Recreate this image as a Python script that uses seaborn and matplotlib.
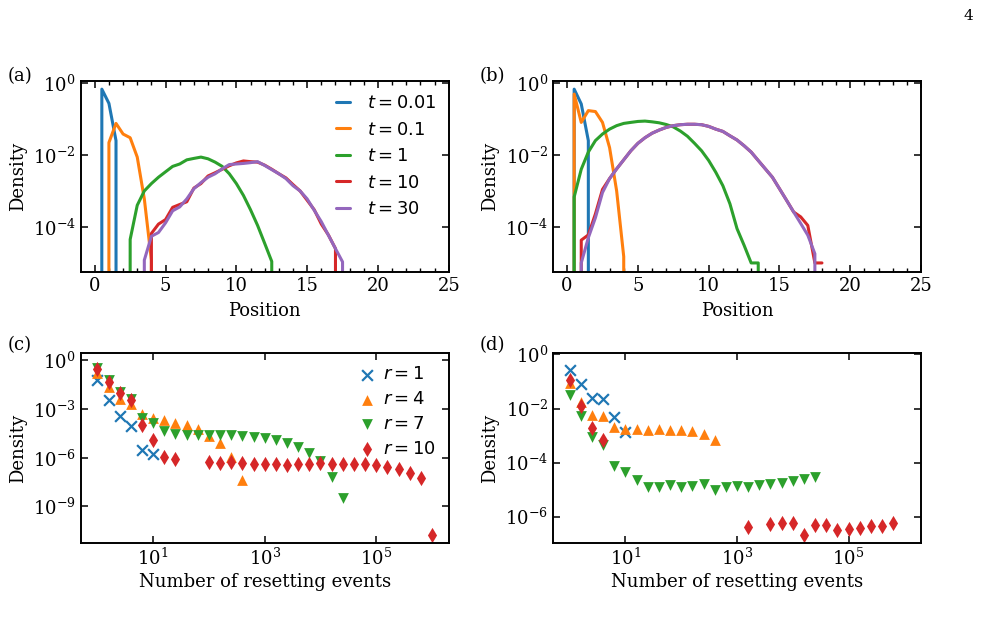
import numpy as np
import pandas as pd
import matplotlib
matplotlib.use("Agg")
import matplotlib.pyplot as plt
import seaborn as sns

sns.set_theme(style="ticks")
plt.rcParams.update({
    'font.family': 'DejaVu Serif',
    'mathtext.fontset': 'dejavusans',
    'font.size': 13,
    'axes.labelsize': 13,
    'xtick.labelsize': 13,
    'ytick.labelsize': 13,
    'legend.fontsize': 13,
    'xtick.direction': 'in',
    'ytick.direction': 'in',
    'xtick.top': True,
    'ytick.right': True,
    'axes.linewidth': 1.4,
    'axes.edgecolor': 'black',
    'text.color': 'black',
    'axes.labelcolor': 'black',
    'xtick.color': 'black',
    'ytick.color': 'black',
})

# ---- data: panels (a)/(b), density vs position (bins of 0.5) ----
position = [0.0, 0.5, 1.0, 1.5, 2.0, 2.5, 3.0, 3.5, 4.0, 4.5, 5.0, 5.5, 6.0, 6.5,
            7.0, 7.5, 8.0, 8.5, 9.0, 9.5, 10.0, 10.5, 11.0, 11.5, 12.0, 12.5, 13.0,
            13.5, 14.0, 14.5, 15.0, 15.5, 16.0, 16.5, 17.0, 17.5, 18.0]
times = ["0.01", "0.1", "1", "10", "30"]

a_t001 = [0, 0.67, 0.27, 0.025, 0, 0, 0, 0, 0, 0, 0, 0, 0, 0, 0, 0, 0, 0, 0, 0,
          0, 0, 0, 0, 0, 0, 0, 0, 0, 0, 0, 0, 0, 0, 0, 0, 0]
a_t01 = [0, 0, 0.022, 0.075, 0.038, 0.030, 0.0087, 6e-4, 1.2e-5, 0, 0, 0, 0, 0, 0,
         0, 0, 0, 0, 0, 0, 0, 0, 0, 0, 0, 0, 0, 0, 0, 0, 0, 0, 0, 0, 0, 0]
a_t1 = [0, 0, 0, 0, 0, 4.5e-5, 4e-4, 1.0e-3, 1.6e-3, 2.4e-3, 3.4e-3, 4.8e-3, 5.6e-3,
        7.3e-3, 8.0e-3, 8.7e-3, 7.8e-3, 6.3e-3, 4.8e-3, 3.0e-3, 1.6e-3, 7.5e-4, 3e-4,
        1.1e-4, 3.5e-5, 1.1e-5, 0, 0, 0, 0, 0, 0, 0, 0, 0, 0, 0]
a_t10 = [0, 0, 0, 0, 0, 0, 0, 0, 6.6e-5, 1.2e-4, 1.6e-4, 3.5e-4, 4.2e-4, 5.0e-4,
         1.2e-3, 1.6e-3, 2.6e-3, 3.2e-3, 4.0e-3, 5.0e-3, 6.0e-3, 6.8e-3, 6.5e-3,
         6.3e-3, 5.2e-3, 4.0e-3, 3.0e-3, 2.3e-3, 1.5e-3, 1.0e-3, 5.5e-4, 3.0e-4,
         1.2e-4, 6e-5, 2.5e-5, 0, 0]
a_t30 = [0, 0, 0, 0, 0, 0, 0, 1.2e-5, 5.5e-5, 7e-5, 1.3e-4, 2.8e-4, 3.6e-4, 6e-4,
         1.15e-3, 1.7e-3, 2.4e-3, 3e-3, 4.1e-3, 5.4e-3, 5.6e-3, 5.8e-3, 6.1e-3,
         6.5e-3, 5.1e-3, 3.9e-3, 3e-3, 2.2e-3, 1.4e-3, 1e-3, 6e-4, 2.9e-4, 1.4e-4,
         5.9e-5, 2.5e-5, 1.07e-5, 0]

b_t001 = [0, 0.67, 0.26, 0.025, 0, 0, 0, 0, 0, 0, 0, 0, 0, 0, 0, 0, 0, 0, 0, 0,
          0, 0, 0, 0, 0, 0, 0, 0, 0, 0, 0, 0, 0, 0, 0, 0, 0]
b_t01 = [0, 0.49, 0.08, 0.17, 0.16, 0.08, 0.016, 1e-3, 1.5e-5, 0, 0, 0, 0, 0, 0,
         0, 0, 0, 0, 0, 0, 0, 0, 0, 0, 0, 0, 0, 0, 0, 0, 0, 0, 0, 0, 0, 0]
b_t1 = [0, 6.8e-4, 4e-3, 0.012, 0.025, 0.038, 0.052, 0.065, 0.075, 0.08, 0.085,
        0.087, 0.083, 0.078, 0.07, 0.06, 0.046, 0.033, 0.021, 0.013, 0.007, 3.3e-3,
        1.4e-3, 4.4e-4, 9e-5, 3.1e-5, 1e-5, 1e-5, 0, 0, 0, 0, 0, 0, 0, 0, 0]
b_t10 = [0, 0, 4.3e-5, 6e-5, 2.3e-4, 1.1e-3, 2.2e-3, 4.1e-3, 7.3e-3, 0.013, 0.021,
         0.030, 0.040, 0.049, 0.058, 0.065, 0.069, 0.071, 0.071, 0.069, 0.062,
         0.052, 0.045, 0.034, 0.026, 0.018, 0.012, 0.007, 4.1e-3, 2.4e-3, 1.15e-3,
         5.5e-4, 2.6e-4, 1.9e-4, 1.1e-4, 1e-5, 1e-5]
b_t30 = [0, 0, 1e-5, 5e-5, 1.8e-4, 9e-4, 2.2e-3, 4.1e-3, 7.3e-3, 0.013, 0.021,
         0.030, 0.040, 0.049, 0.058, 0.065, 0.069, 0.071, 0.071, 0.069, 0.062,
         0.052, 0.045, 0.034, 0.026, 0.018, 0.012, 0.007, 4.1e-3, 2.4e-3, 1.15e-3,
         5.5e-4, 2.6e-4, 1.25e-4, 5.9e-5, 1.8e-5, 0]

# ---- data: panels (c)/(d), density vs number of resetting events ----
n_events = [1, 1.585, 2.512, 3.981, 6.31, 10, 15.85, 25.12, 39.81, 63.1, 100,
            158.5, 251.2, 398.1, 631, 1000, 1585, 2512, 3981, 6310, 1e4, 15850,
            25120, 39810, 63100, 1e5, 158500, 251200, 398100, 631000, 1e6]
nan = np.nan
rates = ["1", "4", "7", "10"]

c_r1 = [0.065, 3.5e-3, 3.6e-4, 9e-5, 3e-6, 1.8e-6] + [nan] * 25
c_r4 = [0.17, 0.023, 4.4e-3, 2e-3, 4.8e-4, 3e-4, 2e-4, 1.4e-4, 1e-4, 5.5e-5, 2.1e-5,
        7.6e-6, 1.1e-6, 4.2e-8] + [nan] * 17
c_r7 = [0.35, 0.059, 0.011, 4.4e-3, 3e-4, 1.3e-4, 4.3e-5, 3.1e-5, 2.7e-5, 2.5e-5,
        2.5e-5, 2.5e-5, 2.4e-5, 2.1e-5, 1.9e-5, 1.7e-5, 1.3e-5, 8.3e-6, 4.7e-6, 2e-6,
        6.5e-7, 6.7e-8, 3.2e-9] + [nan] * 8
c_r10 = [0.31, 0.047, 0.01, 3.5e-3, 1.1e-4, 1.2e-5, 1.1e-6, 7.9e-7, nan, nan, 5.1e-7,
         4.5e-7, 5.6e-7, 4.5e-7, 4e-7, 4e-7, 4e-7, 3.5e-7, 4e-7, 4e-7, 4.5e-7, 4e-7,
         4e-7, 4e-7, 4e-7, 3.5e-7, 2.8e-7, 1.9e-7, 1.1e-7, 5.3e-8, 1.7e-11]

d_r1 = [0.26, 0.078, 0.025, 0.022, 4.7e-3, 1.4e-3] + [nan] * 25
d_r4 = [0.085, 0.018, 5.7e-3, 5.3e-3, 2e-3, 1.7e-3, 1.7e-3, 1.6e-3, 1.7e-3, 1.6e-3,
        1.6e-3, 1.5e-3, 1.1e-3, 6.9e-4] + [nan] * 17
d_r7 = [0.032, 5.3e-3, 8.5e-4, 4.5e-4, 7.4e-5, 4.6e-5, 2.3e-5, 1.3e-5, 1.2e-5,
        1.5e-5, 1.2e-5, 1.35e-5, 1.6e-5, 1.0e-5, 1.3e-5, 1.35e-5, 1.3e-5, 1.5e-5,
        1.6e-5, 1.8e-5, 2.1e-5, 2.4e-5, 3e-5] + [nan] * 8
d_r10 = [0.11, 0.012, 1.9e-3, 6.9e-4] + [nan] * 12 + [4.3e-7, nan, 5.4e-7, 5.7e-7,
         5.7e-7, 2.1e-7, 4.9e-7, 4.9e-7, 3.2e-7, 3.4e-7, 3.7e-7, 4.6e-7, 4.6e-7,
         5.7e-7, nan]

line_colors = ["#1f77b4", "#ff7f0e", "#2ca02c", "#d62728", "#9467bd"]
scatter_markers = ["x", "^", "v", "d"]


def plot_density_panel(ax, series, show_legend):
    for t, y, c in zip(times, series, line_colors):
        sns.lineplot(x=position, y=y, ax=ax, color=c, linewidth=2.2,
                     estimator=None, sort=False, label=f"$t = {t}$" if show_legend else None)
    ax.set_yscale("log")
    ax.set_xlim(-1, 25)
    ax.set_ylim(5.7e-6, 1.1)
    ax.set_xticks([0, 5, 10, 15, 20, 25])
    ax.set_xticks(np.arange(0, 26, 1), minor=True)
    ax.set_yticks([1e0, 1e-2, 1e-4])
    ax.yaxis.set_minor_locator(matplotlib.ticker.NullLocator())
    ax.tick_params(which="major", length=5, width=1.1)
    ax.tick_params(which="minor", length=3, width=1.0)
    ax.set_xlabel("Position", labelpad=5)
    ax.set_ylabel("Density")
    if show_legend:
        ax.legend(loc="upper right", frameon=False, handlelength=0.8,
                  handletextpad=0.9, labelspacing=0.47, borderaxespad=0.3)
    elif ax.get_legend() is not None:
        ax.get_legend().remove()


def plot_reset_panel(ax, series, yticks, ylim, show_legend):
    for r, y, c, m in zip(rates, series, line_colors, scatter_markers):
        kw = dict(linewidth=1.6) if m == "x" else dict(linewidth=0)
        sns.scatterplot(x=n_events, y=y, ax=ax, color=c, marker=m, s=60,
                        label=f"$r = {r}$" if show_legend else None, **kw)
    ax.set_xscale("log")
    ax.set_yscale("log")
    ax.set_xlim(0.5, 2e6)
    ax.set_ylim(*ylim)
    ax.set_xticks([1e1, 1e3, 1e5])
    ax.set_yticks(yticks)
    ax.xaxis.set_minor_locator(matplotlib.ticker.NullLocator())
    ax.yaxis.set_minor_locator(matplotlib.ticker.NullLocator())
    ax.tick_params(which="major", length=5, width=1.1)
    ax.set_xlabel("Number of resetting events", labelpad=3)
    ax.set_ylabel("Density")
    if show_legend:
        ax.legend(loc="upper right", frameon=False, handlelength=0.8,
                  handletextpad=0.5, labelspacing=0.38, borderaxespad=0.3)
    elif ax.get_legend() is not None:
        ax.get_legend().remove()


fig, axes = plt.subplots(2, 2, figsize=(9.83, 6.36), dpi=100)
fig.subplots_adjust(left=0.082, right=0.937, bottom=0.146, top=0.872,
                    wspace=0.283, hspace=0.426)

plot_density_panel(axes[0, 0], [a_t001, a_t01, a_t1, a_t10, a_t30], True)
plot_density_panel(axes[0, 1], [b_t001, b_t01, b_t1, b_t10, b_t30], False)
plot_reset_panel(axes[1, 0], [c_r1, c_r4, c_r7, c_r10],
                 [1e0, 1e-3, 1e-6, 1e-9], (10 ** -11.27, 10 ** 0.47), True)
plot_reset_panel(axes[1, 1], [d_r1, d_r4, d_r7, d_r10],
                 [1e0, 1e-2, 1e-4, 1e-6], (10 ** -6.98, 10 ** 0.06), False)

for lab, x, y in [("(a)", 0.008, 0.88), ("(b)", 0.488, 0.88),
                  ("(c)", 0.008, 0.457), ("(d)", 0.488, 0.457)]:
    fig.text(x, y, lab, ha="left", va="center", fontsize=13)
fig.text(0.99, 0.975, "4", ha="right", va="center", fontsize=11)

fig.savefig("out.png", dpi=100)
